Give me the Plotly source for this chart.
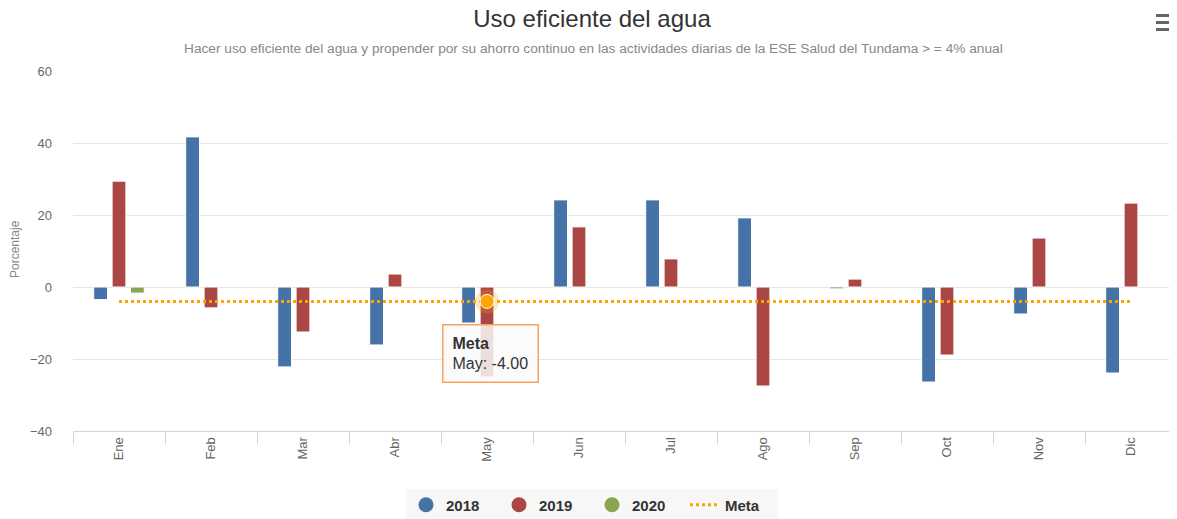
import plotly.graph_objects as go

months = ["Ene", "Feb", "Mar", "Abr", "May", "Jun", "Jul", "Ago", "Sep", "Oct", "Nov", "Dic"]
v2018 = [-3.5, 41.7, -22.2, -16.1, -10.0, 24.2, 24.2, 19.2, -0.5, -26.4, -7.5, -23.9]
v2019 = [29.4, -5.8, -12.5, 3.6, -25.0, 16.7, 7.8, -27.5, 2.2, -18.9, 13.6, 23.3]
v2020 = [-1.7, None, None, None, None, None, None, None, None, None, None, None]
meta = [-4] * 12

title = "Uso eficiente del agua"
subtitle = ("Hacer uso eficiente del agua y propender por su ahorro continuo en las actividades "
            "diarias de la ESE Salud del Tundama > = 4% anual")
ytitle = "Porcentaje"

c2018, c2019, c2020, cmeta = "#4572A7", "#AA4643", "#89A54E", "#FFA500"
FONT = "Liberation Sans, Arial, sans-serif"

W, H = 1169, 511
L, T, B = 65, 63, 88
PW, PH = W - L, H - T - B


def px(x):
    return (x - L) / PW


def py(y):
    return (H - B - y) / PH


fig = go.Figure()
for name, vals, col in [("2018", v2018, c2018), ("2019", v2019, c2019), ("2020", v2020, c2020)]:
    fig.add_trace(go.Bar(x=months, y=vals, name=name, marker=dict(color=col, line=dict(color="white", width=1)),
                         legendgroup=name, showlegend=False))
fig.add_trace(go.Scatter(x=months, y=meta, mode="lines", name="Meta", showlegend=False, legendgroup="Meta",
                         line=dict(color=cmeta, width=3, dash="dot")))
# highlighted hover point
fig.add_trace(go.Scatter(x=[months[4]], y=[meta[4]], mode="markers", showlegend=False,
                         marker=dict(size=24, color="rgba(255,165,0,0.25)")))
fig.add_trace(go.Scatter(x=[months[4]], y=[meta[4]], mode="markers", showlegend=False,
                         marker=dict(size=14, color=cmeta, line=dict(color="white", width=1))))
# legend entries
for name, col in [("2018", c2018), ("2019", c2019), ("2020", c2020)]:
    fig.add_trace(go.Scatter(x=[None], y=[None], mode="markers", name=name, legendgroup=name,
                             marker=dict(symbol="circle", size=15, color=col)))
fig.add_trace(go.Scatter(x=[None], y=[None], mode="lines", name="Meta", legendgroup="Meta",
                         line=dict(color=cmeta, width=3, dash="dot")))

fig.update_layout(
    width=W, height=H,
    margin=dict(l=L, r=0, t=T, b=B, autoexpand=False),
    paper_bgcolor="white", plot_bgcolor="white",
    font=dict(family=FONT, color="#666"),
    barmode="group", bargap=0.4, bargroupgap=0.25,
    title=dict(text=title, x=(584) / W, xanchor="center", y=1 - 11 / H, yanchor="middle",
               font=dict(size=24, color="#333", family=FONT)),
    legend=dict(orientation="h", x=px(584), xanchor="center", y=py(497), yanchor="middle",
                bgcolor="#f7f7f7", font=dict(size=15, color="#333", family=FONT, weight="bold"),
                entrywidth=48, entrywidthmode="pixels", tracegroupgap=0),
    hovermode=False,
)
fig.update_xaxes(type="category", showline=True, linecolor="#ccd6eb", linewidth=1,
                 ticks="outside", tickson="boundaries", ticklen=12, tickcolor="#ccd6eb",
                 tickangle=-90, tickfont=dict(size=13, color="#666"), showgrid=False,
                 automargin=False, ticklabelstandoff=0)
fig.update_yaxes(range=[-40, 60], dtick=20, gridcolor="#e6e6e6", zeroline=False,
                 tickfont=dict(size=13, color="#666"), ticklabelstandoff=20, automargin=False)

fig.add_annotation(xref="paper", yref="paper", x=px(7), y=py(241), xanchor="center", yanchor="middle",
                   text=ytitle, textangle=-90, showarrow=False, font=dict(size=12, color="#888", family=FONT))
fig.add_annotation(xref="paper", yref="paper", x=px(585), y=py(40), xanchor="center", yanchor="middle",
                   text=subtitle, showarrow=False, font=dict(size=13.7, color="#888", family=FONT))
fig.add_annotation(x=months[4], y=-18.6, xanchor="center", yanchor="middle", xshift=3,
                   text="<b>Meta</b><br>May: -4.00", showarrow=False, align="left",
                   font=dict(size=16, color="#333", family=FONT),
                   bgcolor="rgba(250,250,250,0.85)", bordercolor="#F7A35C", borderwidth=1.5, borderpad=9)
# hamburger menu icon
for yy in (6, 13, 20):
    fig.add_shape(type="rect", xref="paper", yref="paper",
                  x0=px(1148), x1=px(1169), y0=py(yy + 3), y1=py(yy),
                  fillcolor="#666", line=dict(width=0))

fig.write_html("out.html")
